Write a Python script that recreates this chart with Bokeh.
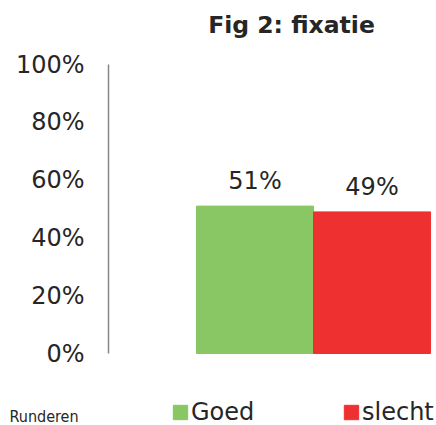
from bokeh.plotting import figure
from bokeh.models import (ColumnDataSource, Range1d, FixedTicker, Label,
                          Legend, LegendItem, LinearAxis)
from bokeh.core.properties import value
from bokeh.embed import file_html
from bokeh.resources import INLINE

# ---- data ----
categories = ["Goed", "slecht"]
values = [51, 49]
value_labels = ["51%", "49%"]
colors = ["#88C764", "#EE3030"]
y_ticks = [0, 20, 40, 60, 80, 100]
y_tick_labels = ["0%", "20%", "40%", "60%", "80%", "100%"]
title_text = "Fig 2: fixatie"
group_label = "Runderen"

FONT = "DejaVu Sans"
TXT = "#262626"

xpos = [i + 0.5 for i in range(len(categories))]
source = ColumnDataSource(dict(x=xpos, top=values, cat=categories,
                               color=colors, lab=value_labels))

p = figure(width=436, height=425, output_backend="svg", toolbar_location=None,
           x_range=Range1d(-1.675, 2.051), y_range=Range1d(-24.91, 122.15),
           x_axis_location=None, y_axis_location=None,
           min_border=0, min_border_left=0, min_border_right=0,
           min_border_top=0, min_border_bottom=0)
p.outline_line_color = None
p.grid.visible = False
p.background_fill_color = "white"
p.border_fill_color = "white"

r = p.vbar(x="x", top="top", bottom=0, width=1.0, color="color", source=source)

p.text(x="x", y="top", text="lab", source=source, y_offset=-25,
       text_align="center", text_baseline="alphabetic",
       text_font=value(FONT), text_font_size="24px", text_color=TXT)

ax = LinearAxis(fixed_location=-0.752, bounds=(0, 100))
ax.ticker = FixedTicker(ticks=y_ticks)
ax.major_label_overrides = {t: l for t, l in zip(y_ticks, y_tick_labels)}
ax.major_tick_out = 0
ax.major_tick_in = 0
ax.minor_tick_out = 0
ax.minor_tick_in = 0
ax.major_label_standoff = 24
ax.axis_line_color = "#868686"
ax.axis_line_width = 1.5
ax.major_label_text_font = FONT
ax.major_label_text_font_size = "24px"
ax.major_label_text_color = TXT
p.add_layout(ax, "left")

p.add_layout(Label(x=291, y=401, x_units="screen", y_units="screen",
                   text=title_text, text_align="center",
                   text_baseline="alphabetic", text_font=FONT,
                   text_font_style="bold", text_font_size="23.5px",
                   text_color=TXT))

p.add_layout(Label(x=9, y=9, x_units="screen", y_units="screen",
                   text=group_label, text_align="left",
                   text_baseline="alphabetic",
                   text_font="'DejaVu Sans Condensed', 'DejaVu Sans'",
                   text_font_size="16px", text_color=TXT))

legend = Legend(items=[LegendItem(label=c, renderers=[r], index=i)
                       for i, c in enumerate(categories)],
                orientation="horizontal", location=(171, -1),
                glyph_width=18, glyph_height=18, label_standoff=2,
                label_width=151, spacing=0, padding=0, margin=0,
                border_line_color=None, background_fill_alpha=0,
                label_text_font=FONT, label_text_font_size="24px",
                label_text_color=TXT)
p.add_layout(legend, "center")

open("out.html", "w").write(file_html(p, INLINE))
